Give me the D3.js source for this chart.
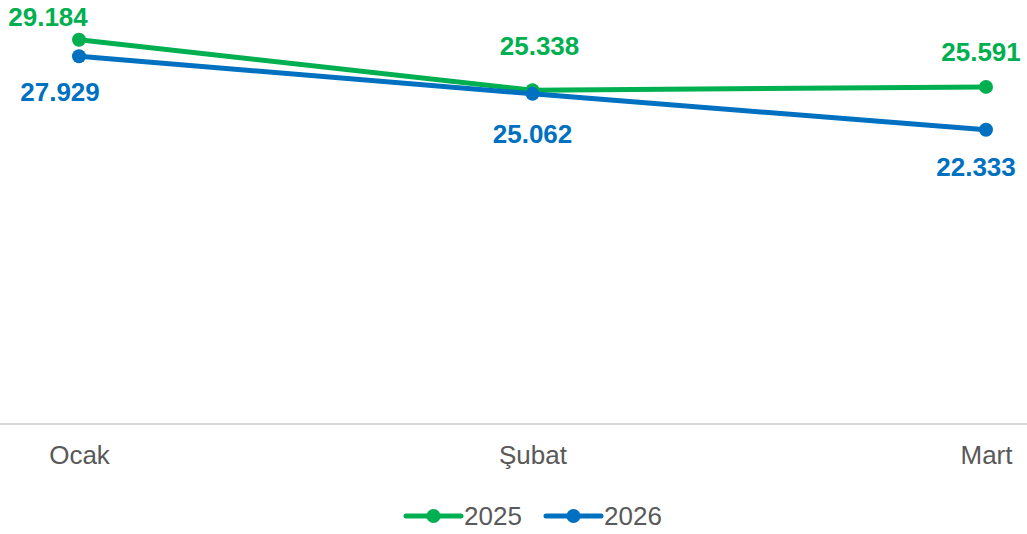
<!DOCTYPE html>
<html><head><meta charset="utf-8">
<script src="https://cdn.jsdelivr.net/npm/d3@7"></script>
<style>body{margin:0;background:#fff}svg{display:block}text{font-family:"Liberation Sans",Arial,sans-serif}</style>
</head><body>
<svg id="c" width="1027" height="534"></svg>
<script>
const categories = ["Ocak", "Şubat", "Mart"];
const seriesNames = ["2025", "2026"];
const values2025 = [29.184, 25.338, 25.591];
const values2026 = [27.929, 25.062, 22.333];
const labels2025 = ["29.184", "25.338", "25.591"];
const labels2026 = ["27.929", "25.062", "22.333"];

const colors = ["#00b050", "#0070c0"];
const series = [
  {name: seriesNames[0], values: values2025, labels: labels2025, color: colors[0]},
  {name: seriesNames[1], values: values2026, labels: labels2026, color: colors[1]}
];
// label placement nudges (layout, relative to each point)
const nudges = [
  [[-31, -14], [7, -35], [-5, -26]],
  [[-19, 45], [0, 49], [-10, 46]]
];

const svg = d3.select("#c");
const x = d3.scalePoint().domain(categories).range([79, 986]);
const y = d3.scaleLinear().domain([0, 30]).range([423, 29]);

svg.append("line").attr("x1", 0).attr("x2", 1027).attr("y1", 424).attr("y2", 424)
  .attr("stroke", "#d9d9d9").attr("stroke-width", 2);

const xAxis = d3.axisBottom(x).tickSize(0).tickPadding(0);
const gx = svg.append("g").attr("transform", "translate(0,446)").call(xAxis);
gx.select(".domain").remove();
gx.selectAll("text").attr("fill", "#595959").attr("font-size", 26)
  .attr("font-family", '"Liberation Sans",Arial,sans-serif');

const line = d3.line().x((d, i) => x(categories[i])).y(d => y(d));

series.forEach((s, si) => {
  svg.append("path").datum(s.values).attr("d", line)
    .attr("fill", "none").attr("stroke", s.color).attr("stroke-width", 5).attr("stroke-linejoin", "round");
});
series.forEach((s, si) => {
  svg.selectAll(null).data(s.values).enter().append("circle")
    .attr("cx", (d, i) => x(categories[i])).attr("cy", d => y(d)).attr("r", 7).attr("fill", s.color);
});
series.forEach((s, si) => {
  svg.selectAll(null).data(s.values).enter().append("text")
    .attr("x", (d, i) => x(categories[i]) + nudges[si][i][0])
    .attr("y", (d, i) => y(d) + nudges[si][i][1])
    .attr("text-anchor", "middle").attr("font-size", 26).attr("font-weight", "bold")
    .attr("fill", s.color).text((d, i) => s.labels[i]);
});

// legend
const legend = svg.append("g");
const legX = [406, 546];
series.forEach((s, si) => {
  const g = legend.append("g").attr("transform", `translate(${legX[si]},516)`);
  g.append("line").attr("x1", 0).attr("x2", 55).attr("stroke", s.color).attr("stroke-width", 5).attr("stroke-linecap", "round");
  g.append("circle").attr("cx", 27.5).attr("r", 7).attr("fill", s.color);
  g.append("text").attr("x", 58).attr("y", 9).attr("font-size", 26).attr("fill", "#595959").text(s.name);
});
</script>
</body></html>
